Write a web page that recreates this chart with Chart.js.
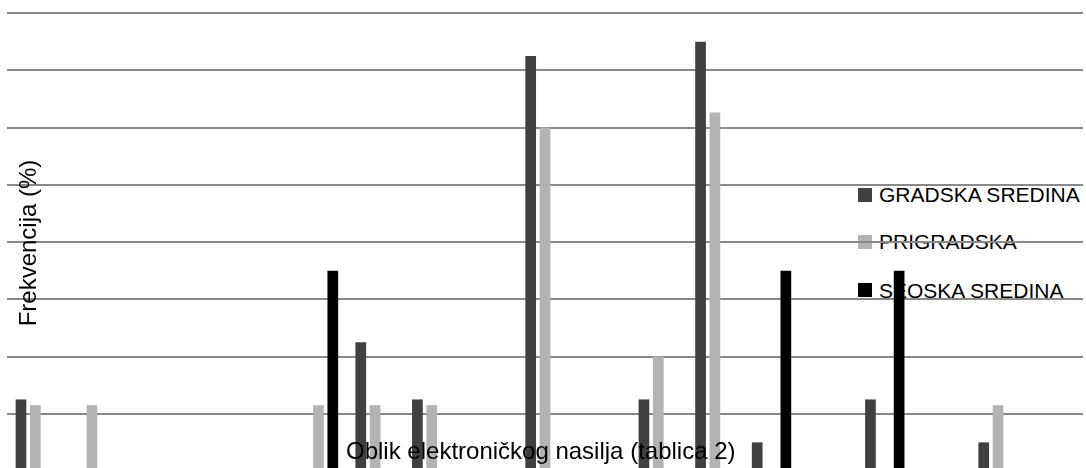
<!DOCTYPE html>
<html>
<head>
<meta charset="utf-8">
<script src="https://cdn.jsdelivr.net/npm/chart.js@4/dist/chart.umd.min.js"></script>
<style>
  html, body { margin: 0; padding: 0; background: #ffffff; overflow: hidden; width: 1086px; height: 468px; }
  #legend { position: absolute; left: 0; top: 0; width: 1086px; height: 468px; z-index: 0; }
  .lg-box { position: absolute; width: 14px; height: 14px; }
  .lg-text { position: absolute; font-family: "Liberation Sans", Arial, sans-serif; font-size: 21px; line-height: 21px; color: #000; white-space: nowrap; }
  #wrap { position: absolute; left: 0; top: 0; width: 1086px; height: 480px; z-index: 1; }
  .title { position: absolute; font-family: "Liberation Sans", Arial, sans-serif; font-size: 24px; line-height: 24px; color: #000; white-space: nowrap; z-index: 2; }
  #ytitle { width: 300px; text-align: center; left: -121.7px; top: 231px; transform: rotate(-90deg); transform-origin: 150px 12px; }
  #xtitle { left: 346px; top: 439px; }
</style>
</head>
<body>
<div id="legend"></div>
<div id="wrap"><canvas id="c"></canvas></div>
<div class="title" id="ytitle">Frekvencija (%)</div>
<div class="title" id="xtitle">Oblik elektroničkog nasilja (tablica 2)</div>
<script>
// ---- data ----
const categories = ['1','2','3','4','5','6','7','8','9','10','11','12','13','14','15','16','17','18','19'];
const seriesNames = ['GRADSKA SREDINA', 'PRIGRADSKA', 'SEOSKA SREDINA'];
const gradska    = [6.25, 0, 0, 0, 0, 0, 11.25, 6.25, 0, 36.25, 0, 6.25, 37.5, 2.5, 0, 6.25, 0, 2.5, 0];
const prigradska = [5.75, 5.75, 0, 0, 0, 5.75, 5.75, 5.75, 0, 30, 0, 10, 31.3, 0, 0, 0, 0, 5.75, 0];
const seoska     = [0, 0, 0, 0, 0, 17.5, 0, 0, 0, 0, 0, 0, 0, 17.5, 0, 17.5, 0, 0, 0];
const yTicks = { min: 0, max: 40, step: 5 };

const colors = ['#404040', '#b3b3b3', '#000000'];
const seriesValues = [gradska, prigradska, seoska];

// ---- legend (behind the plot, as in the reference) ----
const legend = document.getElementById('legend');
const rowCenters = [194.5, 242.2, 290.3];
seriesNames.forEach((name, i) => {
  const box = document.createElement('div');
  box.className = 'lg-box';
  box.style.left = '857.5px';
  box.style.top = (rowCenters[i] - 7) + 'px';
  box.style.background = colors[i];
  legend.appendChild(box);
  const t = document.createElement('div');
  t.className = 'lg-text';
  t.style.left = '879px';
  t.style.top = (rowCenters[i] - 10.8) + 'px';
  t.textContent = name;
  legend.appendChild(t);
});

// ---- chart ----
new Chart(document.getElementById('c'), {
  type: 'bar',
  data: {
    labels: categories,
    datasets: seriesNames.map((name, i) => ({
      label: name,
      data: seriesValues[i],
      backgroundColor: colors[i],
      borderWidth: 0,
      barPercentage: 0.747,
      categoryPercentage: 0.759
    }))
  },
  options: {
    responsive: true,
    maintainAspectRatio: false,
    animation: false,
    layout: { padding: { left: 7, right: 3, top: 13, bottom: 9 } },
    plugins: { legend: { display: false }, tooltip: { enabled: false } },
    scales: {
      x: { display: false },
      y: {
        min: yTicks.min, max: yTicks.max,
        ticks: { display: false, stepSize: yTicks.step },
        grid: { color: '#898989', lineWidth: 2, drawTicks: false },
        border: { display: false }
      }
    }
  }
});
</script>
</body>
</html>
